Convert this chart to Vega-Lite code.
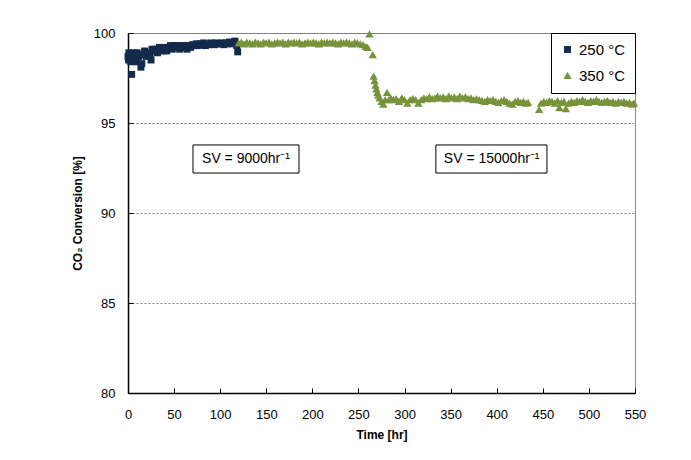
{
  "$schema": "https://vega.github.io/schema/vega-lite/v6.json",
  "width": 507,
  "height": 360,
  "autosize": {"type": "none"},
  "padding": {"left": 128, "top": 33, "right": 56, "bottom": 67},
  "background": "white",
  "config": {
    "font": "Liberation Sans",
    "view": {"stroke": "#8c8c8c", "strokeWidth": 1},
    "axis": {"labelFont": "Liberation Sans", "titleFont": "Liberation Sans", "labelColor": "#000", "titleColor": "#000", "domainColor": "#000", "tickColor": "#000"}
  },
  "datasets": {
    "series": [
      {"t": 0, "v": 98.7, "s": "250 °C"}, {"t": 0.5, "v": 98.5, "s": "250 °C"}, {"t": 1, "v": 98.9, "s": "250 °C"}, {"t": 2, "v": 98.6, "s": "250 °C"}, {"t": 3, "v": 98.4, "s": "250 °C"}, {"t": 4, "v": 97.7, "s": "250 °C"}, {"t": 5, "v": 98.6, "s": "250 °C"}, {"t": 6, "v": 98.9, "s": "250 °C"}, {"t": 7, "v": 98.5, "s": "250 °C"}, {"t": 8, "v": 98.8, "s": "250 °C"}, {"t": 9, "v": 98.4, "s": "250 °C"}, {"t": 10, "v": 98.9, "s": "250 °C"}, {"t": 12, "v": 98.7, "s": "250 °C"}, {"t": 14, "v": 98.1, "s": "250 °C"}, {"t": 15, "v": 98.3, "s": "250 °C"}, {"t": 16, "v": 98.8, "s": "250 °C"}, {"t": 18, "v": 99.0, "s": "250 °C"}, {"t": 20, "v": 98.7, "s": "250 °C"}, {"t": 22, "v": 98.9, "s": "250 °C"}, {"t": 24, "v": 98.7, "s": "250 °C"}, {"t": 25, "v": 98.5, "s": "250 °C"}, {"t": 26, "v": 99.1, "s": "250 °C"}, {"t": 28, "v": 99.0, "s": "250 °C"}, {"t": 30, "v": 99.1, "s": "250 °C"}, {"t": 32, "v": 98.9, "s": "250 °C"}, {"t": 34, "v": 99.2, "s": "250 °C"}, {"t": 36, "v": 99.0, "s": "250 °C"}, {"t": 38, "v": 99.1, "s": "250 °C"}, {"t": 40, "v": 99.2, "s": "250 °C"}, {"t": 42, "v": 99.0, "s": "250 °C"}, {"t": 44, "v": 99.2, "s": "250 °C"}, {"t": 46, "v": 99.3, "s": "250 °C"}, {"t": 48, "v": 99.1, "s": "250 °C"}, {"t": 50, "v": 99.3, "s": "250 °C"}, {"t": 52, "v": 99.2, "s": "250 °C"}, {"t": 54, "v": 99.3, "s": "250 °C"}, {"t": 56, "v": 99.1, "s": "250 °C"}, {"t": 58, "v": 99.3, "s": "250 °C"}, {"t": 60, "v": 99.2, "s": "250 °C"}, {"t": 62, "v": 99.3, "s": "250 °C"}, {"t": 64, "v": 99.1, "s": "250 °C"}, {"t": 66, "v": 99.3, "s": "250 °C"}, {"t": 68, "v": 99.2, "s": "250 °C"}, {"t": 70, "v": 99.35, "s": "250 °C"}, {"t": 72, "v": 99.3, "s": "250 °C"}, {"t": 74, "v": 99.4, "s": "250 °C"}, {"t": 76, "v": 99.3, "s": "250 °C"}, {"t": 78, "v": 99.4, "s": "250 °C"}, {"t": 80, "v": 99.35, "s": "250 °C"}, {"t": 82, "v": 99.45, "s": "250 °C"}, {"t": 84, "v": 99.3, "s": "250 °C"}, {"t": 86, "v": 99.4, "s": "250 °C"}, {"t": 88, "v": 99.35, "s": "250 °C"}, {"t": 90, "v": 99.45, "s": "250 °C"}, {"t": 92, "v": 99.4, "s": "250 °C"}, {"t": 94, "v": 99.35, "s": "250 °C"}, {"t": 96, "v": 99.45, "s": "250 °C"}, {"t": 98, "v": 99.4, "s": "250 °C"}, {"t": 100, "v": 99.4, "s": "250 °C"}, {"t": 102, "v": 99.45, "s": "250 °C"}, {"t": 104, "v": 99.35, "s": "250 °C"}, {"t": 106, "v": 99.45, "s": "250 °C"}, {"t": 108, "v": 99.4, "s": "250 °C"}, {"t": 110, "v": 99.5, "s": "250 °C"}, {"t": 112, "v": 99.4, "s": "250 °C"}, {"t": 114, "v": 99.45, "s": "250 °C"}, {"t": 116, "v": 99.55, "s": "250 °C"}, {"t": 118, "v": 99.3, "s": "250 °C"}, {"t": 119, "v": 98.95, "s": "250 °C"},
      {"t": 120, "v": 99.45, "s": "350 °C"}, {"t": 123, "v": 99.5, "s": "350 °C"}, {"t": 126, "v": 99.4, "s": "350 °C"}, {"t": 129, "v": 99.5, "s": "350 °C"}, {"t": 132, "v": 99.45, "s": "350 °C"}, {"t": 135, "v": 99.4, "s": "350 °C"}, {"t": 138, "v": 99.5, "s": "350 °C"}, {"t": 141, "v": 99.45, "s": "350 °C"}, {"t": 144, "v": 99.4, "s": "350 °C"}, {"t": 147, "v": 99.5, "s": "350 °C"}, {"t": 150, "v": 99.45, "s": "350 °C"}, {"t": 153, "v": 99.5, "s": "350 °C"}, {"t": 156, "v": 99.4, "s": "350 °C"}, {"t": 159, "v": 99.45, "s": "350 °C"}, {"t": 162, "v": 99.5, "s": "350 °C"}, {"t": 165, "v": 99.45, "s": "350 °C"}, {"t": 168, "v": 99.5, "s": "350 °C"}, {"t": 171, "v": 99.4, "s": "350 °C"}, {"t": 174, "v": 99.5, "s": "350 °C"}, {"t": 177, "v": 99.45, "s": "350 °C"}, {"t": 180, "v": 99.5, "s": "350 °C"}, {"t": 183, "v": 99.45, "s": "350 °C"}, {"t": 186, "v": 99.5, "s": "350 °C"}, {"t": 189, "v": 99.4, "s": "350 °C"}, {"t": 192, "v": 99.45, "s": "350 °C"}, {"t": 195, "v": 99.5, "s": "350 °C"}, {"t": 198, "v": 99.45, "s": "350 °C"}, {"t": 201, "v": 99.5, "s": "350 °C"}, {"t": 204, "v": 99.45, "s": "350 °C"}, {"t": 207, "v": 99.4, "s": "350 °C"}, {"t": 210, "v": 99.5, "s": "350 °C"}, {"t": 213, "v": 99.45, "s": "350 °C"}, {"t": 216, "v": 99.5, "s": "350 °C"}, {"t": 219, "v": 99.45, "s": "350 °C"}, {"t": 222, "v": 99.5, "s": "350 °C"}, {"t": 225, "v": 99.45, "s": "350 °C"}, {"t": 228, "v": 99.4, "s": "350 °C"}, {"t": 231, "v": 99.5, "s": "350 °C"}, {"t": 234, "v": 99.45, "s": "350 °C"}, {"t": 237, "v": 99.5, "s": "350 °C"}, {"t": 240, "v": 99.45, "s": "350 °C"}, {"t": 243, "v": 99.4, "s": "350 °C"}, {"t": 246, "v": 99.5, "s": "350 °C"}, {"t": 249, "v": 99.45, "s": "350 °C"}, {"t": 252, "v": 99.4, "s": "350 °C"}, {"t": 255, "v": 99.35, "s": "350 °C"}, {"t": 258, "v": 99.25, "s": "350 °C"}, {"t": 260, "v": 99.2, "s": "350 °C"}, {"t": 262, "v": 99.95, "s": "350 °C"}, {"t": 265.5, "v": 98.8, "s": "350 °C"}, {"t": 266.5, "v": 97.6, "s": "350 °C"}, {"t": 267.5, "v": 97.35, "s": "350 °C"}, {"t": 268.5, "v": 97.1, "s": "350 °C"}, {"t": 269.5, "v": 96.9, "s": "350 °C"}, {"t": 270.5, "v": 96.7, "s": "350 °C"}, {"t": 271.5, "v": 96.55, "s": "350 °C"}, {"t": 273, "v": 96.4, "s": "350 °C"}, {"t": 275, "v": 96.2, "s": "350 °C"}, {"t": 277, "v": 96.05, "s": "350 °C"}, {"t": 279, "v": 96.3, "s": "350 °C"}, {"t": 281, "v": 96.7, "s": "350 °C"}, {"t": 283, "v": 96.3, "s": "350 °C"}, {"t": 285, "v": 96.4, "s": "350 °C"}, {"t": 288, "v": 96.3, "s": "350 °C"}, {"t": 291, "v": 96.35, "s": "350 °C"}, {"t": 294, "v": 96.2, "s": "350 °C"}, {"t": 297, "v": 96.4, "s": "350 °C"}, {"t": 300, "v": 96.3, "s": "350 °C"}, {"t": 303, "v": 96.1, "s": "350 °C"}, {"t": 306, "v": 96.3, "s": "350 °C"}, {"t": 309, "v": 96.35, "s": "350 °C"}, {"t": 312, "v": 96.3, "s": "350 °C"}, {"t": 315, "v": 96.1, "s": "350 °C"}, {"t": 318, "v": 96.3, "s": "350 °C"}, {"t": 321, "v": 96.4, "s": "350 °C"}, {"t": 324, "v": 96.35, "s": "350 °C"}, {"t": 327, "v": 96.45, "s": "350 °C"}, {"t": 330, "v": 96.35, "s": "350 °C"}, {"t": 333, "v": 96.4, "s": "350 °C"}, {"t": 336, "v": 96.5, "s": "350 °C"}, {"t": 339, "v": 96.4, "s": "350 °C"}, {"t": 342, "v": 96.45, "s": "350 °C"}, {"t": 345, "v": 96.35, "s": "350 °C"}, {"t": 348, "v": 96.5, "s": "350 °C"}, {"t": 351, "v": 96.4, "s": "350 °C"}, {"t": 354, "v": 96.45, "s": "350 °C"}, {"t": 357, "v": 96.35, "s": "350 °C"}, {"t": 360, "v": 96.5, "s": "350 °C"}, {"t": 363, "v": 96.4, "s": "350 °C"}, {"t": 366, "v": 96.45, "s": "350 °C"}, {"t": 369, "v": 96.35, "s": "350 °C"}, {"t": 372, "v": 96.4, "s": "350 °C"}, {"t": 375, "v": 96.3, "s": "350 °C"}, {"t": 378, "v": 96.35, "s": "350 °C"}, {"t": 381, "v": 96.3, "s": "350 °C"}, {"t": 384, "v": 96.25, "s": "350 °C"}, {"t": 387, "v": 96.2, "s": "350 °C"}, {"t": 390, "v": 96.3, "s": "350 °C"}, {"t": 393, "v": 96.25, "s": "350 °C"}, {"t": 396, "v": 96.3, "s": "350 °C"}, {"t": 399, "v": 96.2, "s": "350 °C"}, {"t": 402, "v": 96.15, "s": "350 °C"}, {"t": 405, "v": 96.25, "s": "350 °C"}, {"t": 408, "v": 96.3, "s": "350 °C"}, {"t": 411, "v": 96.2, "s": "350 °C"}, {"t": 414, "v": 96.1, "s": "350 °C"}, {"t": 417, "v": 96.05, "s": "350 °C"}, {"t": 420, "v": 96.2, "s": "350 °C"}, {"t": 423, "v": 96.25, "s": "350 °C"}, {"t": 426, "v": 96.15, "s": "350 °C"}, {"t": 429, "v": 96.2, "s": "350 °C"}, {"t": 432, "v": 96.1, "s": "350 °C"}, {"t": 434, "v": 96.15, "s": "350 °C"},
      {"t": 446, "v": 95.75, "s": "350 °C"}, {"t": 448, "v": 96.1, "s": "350 °C"}, {"t": 451, "v": 96.2, "s": "350 °C"}, {"t": 454, "v": 96.15, "s": "350 °C"}, {"t": 457, "v": 96.25, "s": "350 °C"}, {"t": 460, "v": 96.2, "s": "350 °C"}, {"t": 463, "v": 96.1, "s": "350 °C"}, {"t": 466, "v": 96.25, "s": "350 °C"}, {"t": 468, "v": 95.85, "s": "350 °C"}, {"t": 470, "v": 96.15, "s": "350 °C"}, {"t": 473, "v": 96.2, "s": "350 °C"}, {"t": 475, "v": 95.8, "s": "350 °C"}, {"t": 478, "v": 96.1, "s": "350 °C"}, {"t": 481, "v": 96.2, "s": "350 °C"}, {"t": 484, "v": 96.15, "s": "350 °C"}, {"t": 487, "v": 96.25, "s": "350 °C"}, {"t": 490, "v": 96.2, "s": "350 °C"}, {"t": 493, "v": 96.3, "s": "350 °C"}, {"t": 496, "v": 96.2, "s": "350 °C"}, {"t": 499, "v": 96.15, "s": "350 °C"}, {"t": 502, "v": 96.25, "s": "350 °C"}, {"t": 505, "v": 96.2, "s": "350 °C"}, {"t": 508, "v": 96.3, "s": "350 °C"}, {"t": 511, "v": 96.2, "s": "350 °C"}, {"t": 514, "v": 96.15, "s": "350 °C"}, {"t": 517, "v": 96.2, "s": "350 °C"}, {"t": 520, "v": 96.25, "s": "350 °C"}, {"t": 523, "v": 96.15, "s": "350 °C"}, {"t": 526, "v": 96.2, "s": "350 °C"}, {"t": 529, "v": 96.1, "s": "350 °C"}, {"t": 532, "v": 96.2, "s": "350 °C"}, {"t": 535, "v": 96.15, "s": "350 °C"}, {"t": 538, "v": 96.2, "s": "350 °C"}, {"t": 541, "v": 96.1, "s": "350 °C"}, {"t": 544, "v": 96.15, "s": "350 °C"}, {"t": 547, "v": 96.05, "s": "350 °C"}, {"t": 549, "v": 96.1, "s": "350 °C"}
    ],
    "notes": [
      {"t1": 70.5, "t2": 185.5, "v1": 92.22, "v2": 93.78, "tc": 128, "vc": 93.0, "label": "SV = 9000hr⁻¹"},
      {"t1": 334, "t2": 454.5, "v1": 92.22, "v2": 93.78, "tc": 394.5, "vc": 93.0, "label": "SV = 15000hr⁻¹"}
    ]
  },
  "layer": [
    {
      "data": {"name": "notes"},
      "mark": {"type": "rect", "fill": "white", "stroke": "#000", "strokeWidth": 1},
      "encoding": {
        "x": {"field": "t1", "type": "quantitative", "scale": {"domain": [0, 550], "nice": false, "zero": false},
          "axis": {"values": [0, 50, 100, 150, 200, 250, 300, 350, 400, 450, 500, 550], "grid": false, "labelFlush": false, "title": "Time [hr]", "titleFontSize": 12, "titleFontWeight": "bold", "labelFontSize": 13, "tickSize": -5, "labelPadding": 20, "titlePadding": 8, "domainWidth": 1.5}},
        "x2": {"field": "t2"},
        "y": {"field": "v1", "type": "quantitative", "scale": {"domain": [80, 100], "nice": false, "zero": false},
          "axis": {"values": [80, 85, 90, 95, 100], "grid": true, "labelFlush": false, "gridColor": "#777", "gridDash": [2, 2], "gridWidth": 1, "title": "CO₂ Conversion [%]", "titleFontSize": 12, "titleFontWeight": "bold", "labelFontSize": 13, "tickSize": -5, "labelPadding": 18, "titlePadding": 9, "domainWidth": 1.5}},
        "y2": {"field": "v2"}
      }
    },
    {
      "mark": {"type": "rect", "clip": false, "fill": "transparent", "stroke": "#a6a6a6", "strokeWidth": 1},
      "encoding": {"x": {"datum": -76}, "x2": {"datum": 572.5}, "y": {"datum": 100.61}, "y2": {"datum": 76.5}}
    },
    {
      "mark": {"type": "rule", "clip": false, "color": "#000", "strokeWidth": 3},
      "encoding": {"x": {"datum": -128.6}, "y": {"datum": 101.17}, "y2": {"datum": 70}}
    },
    {
      "mark": {"type": "rule", "clip": false, "color": "#000", "strokeWidth": 3},
      "encoding": {"y": {"datum": 101.17}, "x": {"datum": -130}, "x2": {"datum": 640}}
    },
    {
      "data": {"name": "notes"},
      "mark": {"type": "text", "fontSize": 14, "font": "Liberation Sans", "color": "#000"},
      "encoding": {
        "x": {"field": "tc", "type": "quantitative"},
        "y": {"field": "vc", "type": "quantitative"},
        "text": {"field": "label"}
      }
    },
    {
      "data": {"name": "series"},
      "mark": {"type": "point", "filled": true, "opacity": 1},
      "encoding": {
        "x": {"field": "t", "type": "quantitative"},
        "y": {"field": "v", "type": "quantitative"},
        "color": {"field": "s", "type": "nominal", "scale": {"domain": ["250 °C", "350 °C"], "range": ["#132A4C", "#77933C"]},
          "legend": {"title": null, "orient": "top-right", "offset": 0, "strokeColor": "#000", "padding": 9, "fillColor": "white", "labelFontSize": 15, "labelFont": "Liberation Sans", "labelColor": "#000", "symbolSize": 40, "rowPadding": 10, "symbolOpacity": 1}},
        "shape": {"field": "s", "type": "nominal", "scale": {"domain": ["250 °C", "350 °C"], "range": ["square", "triangle-up"]}},
        "size": {"field": "s", "type": "nominal", "scale": {"domain": ["250 °C", "350 °C"], "range": [48, 70]}, "legend": null}
      }
    },
    {
      "mark": {"type": "rule", "color": "#000", "strokeWidth": 2},
      "encoding": {"x": {"datum": 262}}
    },
    {
      "mark": {"type": "rule", "color": "#000", "strokeWidth": 1.5},
      "encoding": {"y": {"datum": 100}}
    }
  ]
}
